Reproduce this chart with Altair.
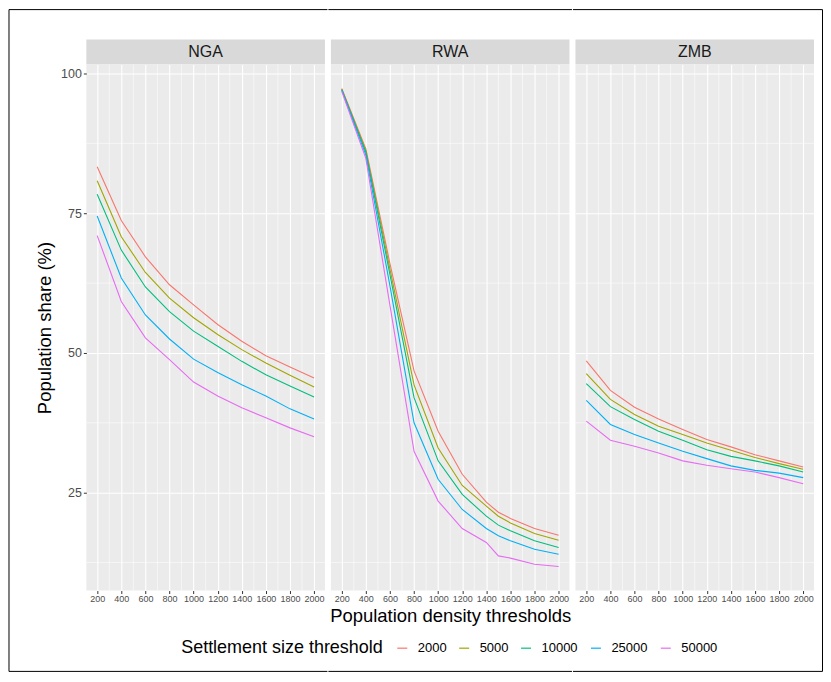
import altair as alt
import pandas as pd

countries = ["NGA", "RWA", "ZMB"]
size_thresholds = ["2000", "5000", "10000", "25000", "50000"]
line_colors = ["#F8766D", "#A3A500", "#00BF7D", "#00B0F6", "#E76BF3"]

x_ticks = [200, 400, 600, 800, 1000, 1200, 1400, 1600, 1800, 2000]
x_minor = [300, 500, 700, 900, 1100, 1300, 1500, 1700, 1900]
y_ticks = [25, 50, 75, 100]
y_minor = [12.5, 37.5, 62.5, 87.5]

density_nga = [200, 400, 600, 800, 1000, 1200, 1400, 1600, 1800, 2000]
density_rwa = [200, 400, 600, 800, 1000, 1200, 1400, 1500, 1600, 1800, 2000]
density_zmb = [200, 400, 600, 800, 1000, 1200, 1400, 1600, 1800, 2000]

nga_2000 = [83.3, 73.7, 67.2, 62.2, 58.6, 55.1, 52.1, 49.5, 47.5, 45.5]
nga_5000 = [80.8, 70.8, 64.4, 59.8, 56.3, 53.3, 50.6, 48.2, 46.0, 43.9]
nga_10000 = [78.4, 68.4, 61.8, 57.4, 53.9, 51.2, 48.5, 46.1, 44.1, 42.1]
nga_25000 = [74.5, 63.4, 56.8, 52.5, 48.9, 46.5, 44.3, 42.3, 40.0, 38.2]
nga_50000 = [71.0, 59.2, 52.7, 48.8, 44.8, 42.3, 40.2, 38.4, 36.6, 35.0]

rwa_2000 = [97.3, 86.5, 66.0, 46.8, 36.0, 28.3, 23.3, 21.5, 20.4, 18.6, 17.4]
rwa_5000 = [97.2, 86.2, 65.0, 44.3, 33.0, 26.3, 22.6, 20.8, 19.6, 17.7, 16.5]
rwa_10000 = [97.1, 85.9, 64.0, 42.0, 30.7, 24.7, 20.8, 19.2, 18.2, 16.4, 15.2]
rwa_25000 = [97.0, 85.4, 62.0, 37.5, 27.4, 22.0, 18.6, 17.3, 16.4, 14.9, 14.0]
rwa_50000 = [96.8, 84.8, 58.5, 32.4, 23.5, 18.6, 16.1, 13.7, 13.3, 12.2, 11.8]

zmb_2000 = [48.6, 43.3, 40.3, 38.2, 36.3, 34.5, 33.2, 31.8, 30.7, 29.6]
zmb_5000 = [46.3, 41.7, 39.0, 36.9, 35.4, 33.9, 32.6, 31.3, 30.2, 29.2]
zmb_10000 = [44.5, 40.4, 38.1, 36.0, 34.4, 32.7, 31.5, 30.7, 29.8, 28.7]
zmb_25000 = [41.5, 37.2, 35.4, 33.9, 32.4, 31.1, 29.8, 29.0, 28.5, 27.7]
zmb_50000 = [37.8, 34.4, 33.3, 32.1, 30.7, 29.9, 29.3, 28.7, 27.7, 26.6]

series = {
    "NGA": (density_nga, [nga_2000, nga_5000, nga_10000, nga_25000, nga_50000]),
    "RWA": (density_rwa, [rwa_2000, rwa_5000, rwa_10000, rwa_25000, rwa_50000]),
    "ZMB": (density_zmb, [zmb_2000, zmb_5000, zmb_10000, zmb_25000, zmb_50000]),
}

rows = []
for c in countries:
    dens, vals = series[c]
    for thr, v in zip(size_thresholds, vals):
        for d, s in zip(dens, v):
            rows.append({"country": c, "density": d, "threshold": thr, "share": s})
df = pd.DataFrame(rows)

FONT = "Liberation Sans"
PW, PH = 239, 527
GAP = 5
xs = alt.Scale(domain=[110, 2090], nice=False, zero=False)
ys = alt.Scale(domain=[7.5, 101.6], nice=False, zero=False)

legend = alt.Legend(
    title="Settlement size threshold", orient="none", legendX=95, legendY=603,
    direction="horizontal", titleOrient="left", titleFontSize=18, titleFontWeight="normal",
    titleColor="black", titleFont=FONT, labelFont=FONT, labelFontSize=13, labelColor="black",
    symbolType="stroke", symbolStrokeWidth=1.2, symbolSize=100, columnPadding=10,
    titlePadding=12, labelOffset=9, titleLimit=400,
)

# decorative outer frame of the figure (pixel offsets relative to each panel)
FRAME_LEFT, FRAME_RIGHT, FRAME_TOP, FRAME_BOTTOM = -77.5, 247.5, -55, 608
one = pd.DataFrame({"f": [0]})


def frame_parts(idx):
    left = FRAME_LEFT if idx == 0 else -GAP / 2
    right = FRAME_RIGHT if idx == 2 else PW + GAP / 2
    parts = []
    for yy in (FRAME_TOP, FRAME_BOTTOM):
        parts.append(alt.Chart(one).mark_rule(color="black", strokeWidth=1).encode(
            x=alt.value(left), x2=alt.value(right), y=alt.value(yy)))
    if idx in (0, 2):
        xx = left if idx == 0 else right
        parts.append(alt.Chart(one).mark_rule(color="black", strokeWidth=1).encode(
            x=alt.value(xx), y=alt.value(FRAME_TOP), y2=alt.value(FRAME_BOTTOM)))
    return parts


def panel(code, idx):
    sub = df[df["country"] == code]
    first = idx == 0
    middle = idx == 1
    xa = dict(values=x_ticks, format="d", grid=True, gridColor="white", gridWidth=1.1,
              domain=False, tickColor="#333333", tickSize=3, tickWidth=1, labelFontSize=9,
              labelColor="#4D4D4D", labelFont=FONT, labelPadding=1)
    if middle:
        xa.update(title="Population density thresholds", titleFontSize=18.5,
                  titleFontWeight="normal", titleColor="black", titleFont=FONT, titlePadding=3)
    else:
        xa.update(title=None)
    ya = dict(values=y_ticks, grid=True, gridColor="white", gridWidth=1.1, domain=False)
    if first:
        ya.update(title="Population share (%)", titleFontSize=18.5, titleFontWeight="normal",
                  titleColor="black", titleFont=FONT, titlePadding=6, tickColor="#333333",
                  tickSize=3, labelFontSize=12.5, labelColor="#4D4D4D", labelFont=FONT,
                  labelPadding=2)
    else:
        ya.update(title=None, labels=False, ticks=False)

    mx = alt.Chart(pd.DataFrame({"v": x_minor})).mark_rule(color="white", strokeWidth=0.55).encode(
        x=alt.X("v:Q", scale=xs, axis=alt.Axis(**xa)))
    my = alt.Chart(pd.DataFrame({"v": y_minor})).mark_rule(color="white", strokeWidth=0.55).encode(
        y=alt.Y("v:Q", scale=ys, axis=alt.Axis(**ya)))
    lines = alt.Chart(sub).mark_line(strokeWidth=1.1).encode(
        x=alt.X("density:Q", scale=xs, axis=alt.Axis(**xa)),
        y=alt.Y("share:Q", scale=ys, axis=alt.Axis(**ya)),
        color=alt.Color("threshold:N", sort=size_thresholds,
                        scale=alt.Scale(domain=size_thresholds, range=line_colors), legend=legend),
    )
    body = alt.layer(mx, my, lines, *frame_parts(idx)).properties(
        width=PW, height=PH, view=alt.ViewBackground(fill="#EBEBEB", stroke=None))
    strip = alt.Chart(pd.DataFrame({"c": [code]})).mark_text(
        fontSize=16, color="#1A1A1A", font=FONT, baseline="middle", align="center").encode(
        text="c:N").properties(width=PW, height=25,
                               view=alt.ViewBackground(fill="#D9D9D9", stroke=None))
    return alt.vconcat(strip, body, spacing=0, bounds="flush")


chart = alt.hconcat(*[panel(c, i) for i, c in enumerate(countries)], spacing=0).properties(
    padding={"left": 0.5, "top": 0, "right": 0, "bottom": 0},
    background="white",
).configure(font=FONT)

chart.save("out.html", embed_options={"renderer": "svg", "actions": False})
